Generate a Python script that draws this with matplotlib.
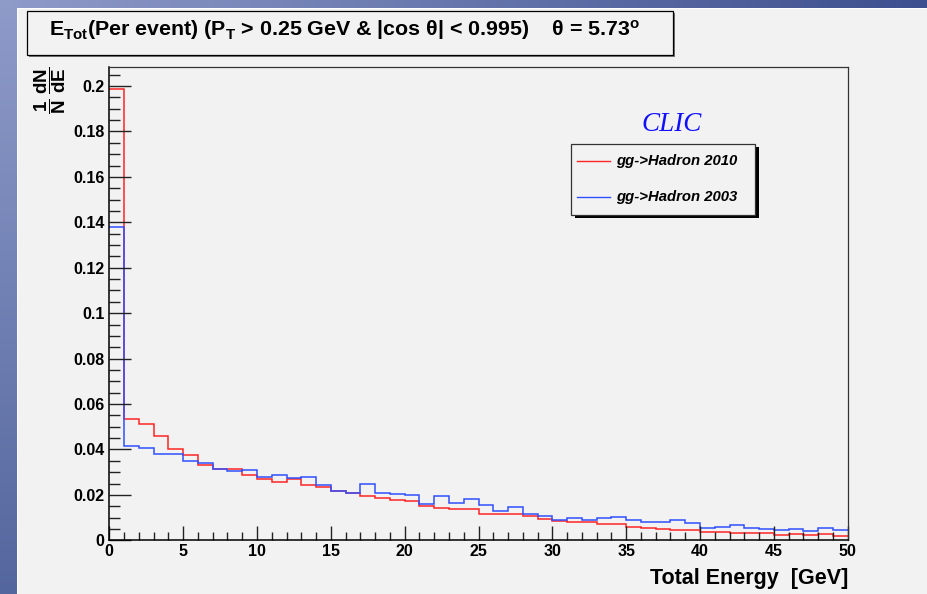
import numpy as np
import matplotlib
matplotlib.use("Agg")
import matplotlib.pyplot as plt
from matplotlib.patches import Rectangle

plt.rcParams['font.family'] = ['Liberation Sans', 'DejaVu Sans']
plt.rcParams['mathtext.fontset'] = 'custom'
plt.rcParams['mathtext.rm'] = 'Liberation Sans:bold'
plt.rcParams['mathtext.bf'] = 'Liberation Sans:bold'
plt.rcParams['mathtext.it'] = 'Liberation Sans:bold:italic'

### histograms, 1 GeV bins from 0 to 50
edges = np.arange(0, 51, 1)

h2010 = [0.1985, 0.0535, 0.0510, 0.0459, 0.0400, 0.0375, 0.0330, 0.0316, 0.0312, 0.0286,
         0.0268, 0.0258, 0.0271, 0.0243, 0.0233, 0.0217, 0.0208, 0.0196, 0.0187, 0.0178,
         0.0172, 0.0152, 0.0144, 0.0137, 0.0137, 0.0117, 0.0117, 0.0117, 0.0106, 0.0095,
         0.0086, 0.0082, 0.0082, 0.0072, 0.0072, 0.0060, 0.0055, 0.0050, 0.0045, 0.0045,
         0.0038, 0.0038, 0.0031, 0.0031, 0.0031, 0.0023, 0.0027, 0.0024, 0.0027, 0.0020]

h2003 = [0.1380, 0.0417, 0.0407, 0.0382, 0.0382, 0.0349, 0.0341, 0.0316, 0.0305, 0.0309,
         0.0278, 0.0286, 0.0275, 0.0278, 0.0243, 0.0217, 0.0210, 0.0249, 0.0210, 0.0202,
         0.0199, 0.0162, 0.0197, 0.0164, 0.0183, 0.0155, 0.0129, 0.0147, 0.0117, 0.0108,
         0.0090, 0.0098, 0.0090, 0.0098, 0.0101, 0.0089, 0.0079, 0.0079, 0.0088, 0.0075,
         0.0055, 0.0060, 0.0067, 0.0053, 0.0048, 0.0045, 0.0050, 0.0043, 0.0055, 0.0046]

labels = ['gg->Hadron 2010', 'gg->Hadron 2003']
colors = ['#ff2424', '#2f50ff']

W, H = 927, 594
fig = plt.figure(figsize=(W/100, H/100), dpi=100)
fig.patch.set_facecolor('#f2f2f2')

def px(x0, y0, x1, y1):
    # pixel box (top-left origin) -> figure fraction
    return [x0/W, 1 - y1/H, (x1 - x0)/W, (y1 - y0)/H]

### blue frame of the slide
axl = fig.add_axes(px(0, 0, 17, H))
grad = np.linspace(0, 1, 256)[:, None]
c0 = np.array([0.56, 0.61, 0.79]); c1 = np.array([0.33, 0.40, 0.62])
axl.imshow(c0 + grad[:, :, None]*(c1 - c0), aspect='auto')
axl.axis('off')
axt = fig.add_axes(px(0, 0, W, 8))
gx = np.linspace(0, 1, 256)[None, :]
t0 = np.array([0.56, 0.61, 0.79]); t1 = np.array([0.24, 0.31, 0.56])
axt.imshow(t0 + gx[:, :, None]*(t1 - t0), aspect='auto')
axt.axis('off')
fig.patches.append(Rectangle((17/W, 0), 1/W, 1 - 8/H, transform=fig.transFigure,
                             facecolor='white', edgecolor='none'))
fig.patches.append(Rectangle((17/W, 1 - 9/H), 1, 1/H, transform=fig.transFigure,
                             facecolor='white', edgecolor='none'))

ax = fig.add_axes(px(109.3, 67, 847.7, 540.3))
ax.set_facecolor('#f2f2f2')

ax.stairs(h2010, edges, baseline=None, color=colors[0], lw=1.1)
ax.stairs(h2003, edges, baseline=None, color=colors[1], lw=1.1)

ax.set_xlim(0, 50)
ax.set_ylim(0, 0.2084)
ax.set_xticks(np.arange(0, 51, 5))
ax.set_xticks(np.arange(0, 51, 1), minor=True)
ax.set_yticks(np.arange(0, 0.201, 0.02))
ax.set_yticks(np.arange(0, 0.2084, 0.005), minor=True)
ax.set_yticklabels(['0', '0.02', '0.04', '0.06', '0.08', '0.1', '0.12', '0.14', '0.16', '0.18', '0.2'])
ax.tick_params(axis='both', which='both', direction='in', colors='#222222', width=1.0,
               labelcolor='black', labelsize=11.5)
ax.tick_params(axis='y', which='major', length=15.8, pad=3.5)
ax.tick_params(axis='y', which='minor', length=8)
ax.tick_params(axis='x', which='major', length=10, pad=3)
ax.tick_params(axis='x', which='minor', length=5.5)
for lab in ax.get_xticklabels() + ax.get_yticklabels():
    lab.set_fontweight('bold')
for s in ['left', 'bottom']:
    ax.spines[s].set_linewidth(1.1)
    ax.spines[s].set_color('black')
for s in ['top', 'right']:
    ax.spines[s].set_linewidth(0.9)
    ax.spines[s].set_color('#333333')

### title box
fig.patches.append(Rectangle((28.5/W, 1 - 56.5/H), 646/W, 44/H, transform=fig.transFigure,
                             facecolor='#777777', edgecolor='none'))
fig.patches.append(Rectangle((27/W, 1 - 55/H), 646/W, 44/H, transform=fig.transFigure,
                             facecolor='#f2f2f2', edgecolor='black', lw=0.9))
fig.text(49/W, 1 - 36/H,
         'E$_{\\mathbf{Tot}}$(Per event) (P$_{\\mathbf{T}}$ > 0.25 GeV & |cos \u03b8| < 0.995)'
         '    \u03b8 = 5.73$^{\\mathbf{o}}$',
         fontsize=15.4, fontweight='bold', ha='left', va='baseline')

### axis titles
fig.text(50/W, 1 - 66/H, r'$\dfrac{\mathbf{1}}{\mathbf{N}}\;\dfrac{\mathbf{dN}}{\mathbf{dE}}$',
         rotation=90, fontsize=13.5, ha='center', va='top')
fig.text(848/W, 1 - 584/H, 'Total Energy  [GeV]', fontsize=15.5, fontweight='bold',
         ha='right', va='baseline')

### legend box with shadow
fig.patches.append(Rectangle((575/W, 1 - 218/H), 184/W, 71/H, transform=fig.transFigure,
                             facecolor='black', edgecolor='none'))
fig.patches.append(Rectangle((571/W, 1 - 215/H), 184/W, 71/H, transform=fig.transFigure,
                             facecolor='#f2f2f2', edgecolor='#333333', lw=0.9))
for i, (lab, col) in enumerate(zip(labels, colors)):
    yy = 1 - (161 + 36*i)/H
    fig.lines.append(plt.Line2D([577/W, 610/W], [yy, yy], transform=fig.transFigure,
                                color=col, lw=1.0))
    fig.text(616/W, yy, lab, fontsize=10.7, fontweight='bold', fontstyle='italic',
             ha='left', va='center')

fig.text(672/W, 1 - 131/H, 'CLIC', fontsize=19.5, fontstyle='italic', color='#1010ff',
         family='Liberation Serif', ha='center', va='baseline')

fig.savefig('out.png', dpi=100, facecolor=fig.get_facecolor())
